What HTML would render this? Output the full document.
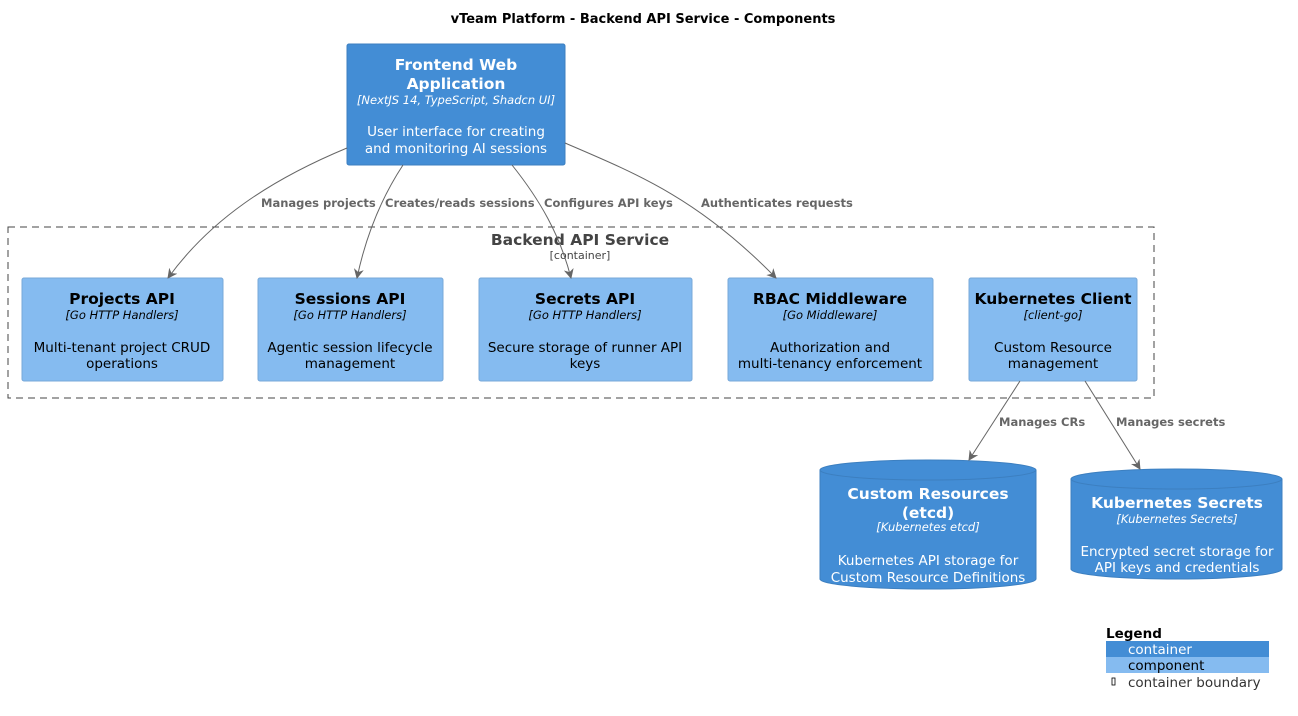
<!DOCTYPE html>
<html><head><meta charset="utf-8"><style>
html,body{margin:0;padding:0;background:#fff;width:1298px;height:716px;overflow:hidden}
svg{display:block}
text{font-family:"DejaVu Sans","Liberation Sans",sans-serif}
.b{font-weight:bold}
.i{font-style:italic}
</style></head><body>
<svg width="1298" height="716" viewBox="0 0 1298 716" xmlns="http://www.w3.org/2000/svg">
<defs><marker id="a" markerWidth="10" markerHeight="10" refX="9" refY="5" orient="auto" markerUnits="userSpaceOnUse"><path d="M0,0 L10,5 L0,10 L3,5 z" fill="#666"/></marker></defs>
<text x="643" y="23" text-anchor="middle" font-size="13" class="b" fill="#000">vTeam Platform - Backend API Service - Components</text>

<rect x="8" y="227" width="1146" height="171" fill="none" stroke="#444" stroke-dasharray="7,5"/>
<text x="580" y="245" text-anchor="middle" font-size="15.5" class="b" fill="#444">Backend API Service</text>
<text x="580" y="259" text-anchor="middle" font-size="11" fill="#444">[container]</text>

<rect x="347" y="44" width="218" height="121" rx="2" fill="#438DD5" stroke="#3C7FC0"/>
<g fill="#fff" text-anchor="middle">
<text x="456" y="70" font-size="15.5" class="b">Frontend Web</text>
<text x="456" y="89" font-size="15.5" class="b">Application</text>
<text x="456" y="104" font-size="11.5" class="i">[NextJS 14, TypeScript, Shadcn UI]</text>
<text x="456" y="136" font-size="13.5">User interface for creating</text>
<text x="456" y="153" font-size="13.5">and monitoring AI sessions</text>
</g>

<g fill="#85BBF0" stroke="#78A8D8">
<rect x="22" y="278" width="201" height="103" rx="2"/>
<rect x="258" y="278" width="185" height="103" rx="2"/>
<rect x="479" y="278" width="213" height="103" rx="2"/>
<rect x="728" y="278" width="205" height="103" rx="2"/>
<rect x="969" y="278" width="168" height="103" rx="2"/>
</g>
<g fill="#000" text-anchor="middle">
<text x="122" y="304" font-size="15.5" class="b">Projects API</text>
<text x="122" y="319" font-size="11.5" class="i">[Go HTTP Handlers]</text>
<text x="122" y="352" font-size="13.5">Multi-tenant project CRUD</text>
<text x="122" y="368" font-size="13.5">operations</text>
<text x="350" y="304" font-size="15.5" class="b">Sessions API</text>
<text x="350" y="319" font-size="11.5" class="i">[Go HTTP Handlers]</text>
<text x="350" y="352" font-size="13.5">Agentic session lifecycle</text>
<text x="350" y="368" font-size="13.5">management</text>
<text x="585" y="304" font-size="15.5" class="b">Secrets API</text>
<text x="585" y="319" font-size="11.5" class="i">[Go HTTP Handlers]</text>
<text x="585" y="352" font-size="13.5">Secure storage of runner API</text>
<text x="585" y="368" font-size="13.5">keys</text>
<text x="830" y="304" font-size="15.5" class="b">RBAC Middleware</text>
<text x="830" y="319" font-size="11.5" class="i">[Go Middleware]</text>
<text x="830" y="352" font-size="13.5">Authorization and</text>
<text x="830" y="368" font-size="13.5">multi-tenancy enforcement</text>
<text x="1053" y="304" font-size="15.5" class="b">Kubernetes Client</text>
<text x="1053" y="319" font-size="11.5" class="i">[client-go]</text>
<text x="1053" y="352" font-size="13.5">Custom Resource</text>
<text x="1053" y="368" font-size="13.5">management</text>
</g>

<path d="M820,470 A108,10 0 0 1 1036,470 L1036,579 A108,10 0 0 1 820,579 Z" fill="#438DD5" stroke="#3C7FC0"/>
<path d="M820,470 A108,10 0 0 0 1036,470" fill="none" stroke="#3C7FC0"/>
<path d="M1071,479 A105.5,10 0 0 1 1282,479 L1282,569 A105.5,10 0 0 1 1071,569 Z" fill="#438DD5" stroke="#3C7FC0"/>
<path d="M1071,479 A105.5,10 0 0 0 1282,479" fill="none" stroke="#3C7FC0"/>
<g fill="#fff" text-anchor="middle">
<text x="928" y="499" font-size="15.5" class="b">Custom Resources</text>
<text x="928" y="518" font-size="15.5" class="b">(etcd)</text>
<text x="928" y="531" font-size="11.5" class="i">[Kubernetes etcd]</text>
<text x="928" y="565" font-size="13.5">Kubernetes API storage for</text>
<text x="928" y="582" font-size="13.5">Custom Resource Definitions</text>
<text x="1177" y="508" font-size="15.5" class="b">Kubernetes Secrets</text>
<text x="1177" y="523" font-size="11.5" class="i">[Kubernetes Secrets]</text>
<text x="1177" y="556" font-size="13.5">Encrypted secret storage for</text>
<text x="1177" y="572" font-size="13.5">API keys and credentials</text>
</g>

<g fill="none" stroke="#666" stroke-width="1" marker-end="url(#a)">
<path d="M347,148 C270,180 210,220 168,278"/>
<path d="M403,165 C380,200 365,240 357,278"/>
<path d="M512,165 C540,200 560,235 571,278"/>
<path d="M565,143 C640,175 700,200 776,278"/>
<path d="M1020,381 L969,460"/>
<path d="M1085,381 L1140,469"/>
</g>
<g fill="#666" font-size="11.5" class="b">
<text x="261" y="207">Manages projects</text>
<text x="385" y="207">Creates/reads sessions</text>
<text x="544" y="207">Configures API keys</text>
<text x="701" y="207">Authenticates requests</text>
<text x="999" y="426">Manages CRs</text>
<text x="1116" y="426">Manages secrets</text>
</g>

<text x="1106" y="638" font-size="13.5" class="b" fill="#000">Legend</text>
<rect x="1106" y="641" width="163" height="16" fill="#438DD5"/>
<rect x="1106" y="657" width="163" height="16" fill="#85BBF0"/>
<text x="1128" y="654" font-size="13.5" fill="#fff">container</text>
<text x="1128" y="670" font-size="13.5" fill="#000">component</text>
<rect x="1112" y="678" width="3" height="7" fill="none" stroke="#000" stroke-width="0.8"/>
<text x="1128" y="687" font-size="13.5" fill="#333">container boundary</text>
</svg>
</body></html>
